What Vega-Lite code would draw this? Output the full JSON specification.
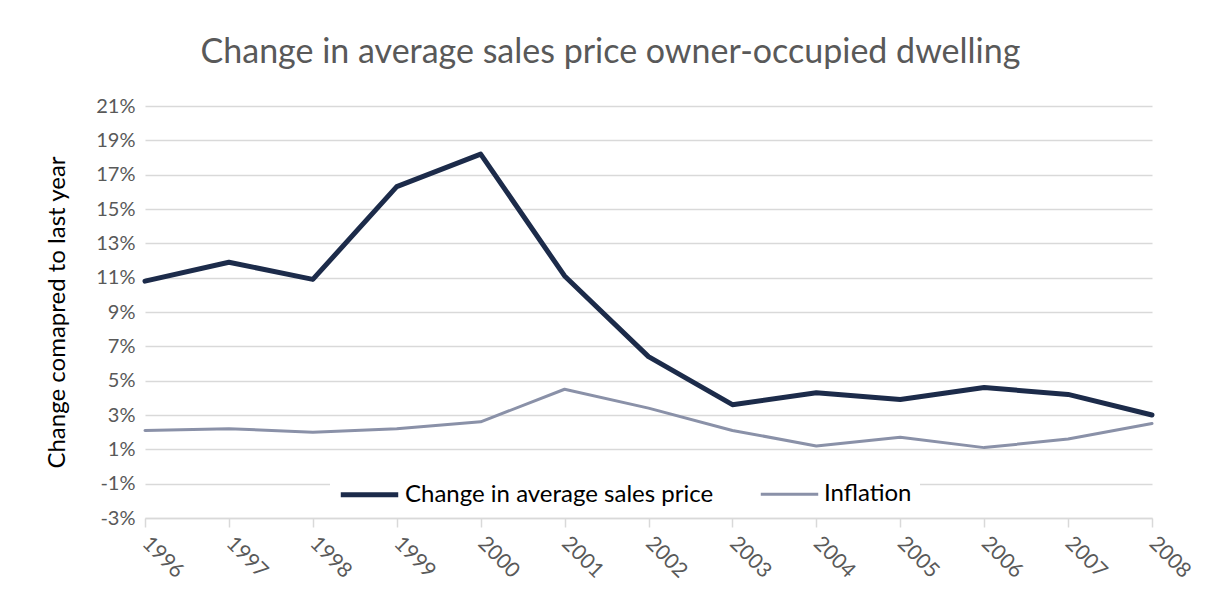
{
  "$schema": "https://vega.github.io/schema/vega-lite/v6.json",
  "width": 1007,
  "height": 412,
  "autosize": {"type": "none"},
  "padding": {"left": 145, "top": 106, "right": 58, "bottom": 84},
  "background": "white",
  "title": {
    "text": "Change in average sales price owner-occupied dwelling",
    "font": "Lato",
    "fontSize": 34,
    "fontWeight": "normal",
    "color": "#595959",
    "anchor": "middle",
    "frame": "group",
    "dx": -38,
    "offset": 26
  },
  "data": {
    "values": [
      {"year": "1996", "series": "Change in average sales price", "value": 0.108},
      {"year": "1997", "series": "Change in average sales price", "value": 0.119},
      {"year": "1998", "series": "Change in average sales price", "value": 0.109},
      {"year": "1999", "series": "Change in average sales price", "value": 0.163},
      {"year": "2000", "series": "Change in average sales price", "value": 0.182},
      {"year": "2001", "series": "Change in average sales price", "value": 0.111},
      {"year": "2002", "series": "Change in average sales price", "value": 0.064},
      {"year": "2003", "series": "Change in average sales price", "value": 0.036},
      {"year": "2004", "series": "Change in average sales price", "value": 0.043},
      {"year": "2005", "series": "Change in average sales price", "value": 0.039},
      {"year": "2006", "series": "Change in average sales price", "value": 0.046},
      {"year": "2007", "series": "Change in average sales price", "value": 0.042},
      {"year": "2008", "series": "Change in average sales price", "value": 0.030},
      {"year": "1996", "series": "Inflation", "value": 0.021},
      {"year": "1997", "series": "Inflation", "value": 0.022},
      {"year": "1998", "series": "Inflation", "value": 0.020},
      {"year": "1999", "series": "Inflation", "value": 0.022},
      {"year": "2000", "series": "Inflation", "value": 0.026},
      {"year": "2001", "series": "Inflation", "value": 0.045},
      {"year": "2002", "series": "Inflation", "value": 0.034},
      {"year": "2003", "series": "Inflation", "value": 0.021},
      {"year": "2004", "series": "Inflation", "value": 0.012},
      {"year": "2005", "series": "Inflation", "value": 0.017},
      {"year": "2006", "series": "Inflation", "value": 0.011},
      {"year": "2007", "series": "Inflation", "value": 0.016},
      {"year": "2008", "series": "Inflation", "value": 0.025}
    ]
  },
  "mark": {"type": "line", "strokeCap": "round", "strokeJoin": "round"},
  "encoding": {
    "x": {
      "field": "year",
      "type": "ordinal",
      "scale": {"type": "point", "padding": 0},
      "axis": {
        "title": null,
        "labelAngle": 45,
        "labelAlign": "left",
        "labelBaseline": "middle",
        "labelFont": "Lato",
        "labelFontSize": 21,
        "labelColor": "#595959",
        "labelPadding": 13,
        "domainColor": "#d9d9d9",
        "domainWidth": 1.5,
        "tickColor": "#d9d9d9",
        "tickWidth": 1.5,
        "tickSize": 9,
        "grid": false
      }
    },
    "y": {
      "field": "value",
      "type": "quantitative",
      "scale": {"domain": [-0.03, 0.21], "nice": false},
      "axis": {
        "title": "Change comapred to last year",
        "titleFont": "Lato",
        "titleFontSize": 24,
        "titleFontWeight": "normal",
        "titleColor": "#000000",
        "titlePadding": 26,
        "values": [-0.03, -0.01, 0.01, 0.03, 0.05, 0.07, 0.09, 0.11, 0.13, 0.15, 0.17, 0.19, 0.21],
        "labelExpr": "replace(format(datum.value, '.0%'), '\u2212', '-')",
        "labelFont": "Lato",
        "labelFontSize": 20,
        "labelColor": "#595959",
        "labelPadding": 10,
        "domain": false,
        "ticks": false,
        "grid": true,
        "gridColor": "#d9d9d9",
        "gridWidth": 1.5
      }
    },
    "color": {
      "field": "series",
      "type": "nominal",
      "scale": {"domain": ["Change in average sales price", "Inflation"], "range": ["#1c2b4a", "#8a91a8"]},
      "legend": {
        "title": null,
        "orient": "none",
        "direction": "horizontal",
        "legendX": 185,
        "legendY": 349,
        "fillColor": "white",
        "padding": 8,
        "symbolType": "stroke",
        "symbolSize": 3300,
        "labelFont": "Lato",
        "labelFontSize": 24,
        "labelColor": "#000000",
        "labelLimit": 400,
        "columnPadding": 40,
        "labelOffset": 4
      }
    },
    "strokeWidth": {
      "field": "series",
      "type": "nominal",
      "scale": {"domain": ["Change in average sales price", "Inflation"], "range": [5, 3]},
      "legend": null
    }
  },
  "config": {"view": {"stroke": null}}
}
